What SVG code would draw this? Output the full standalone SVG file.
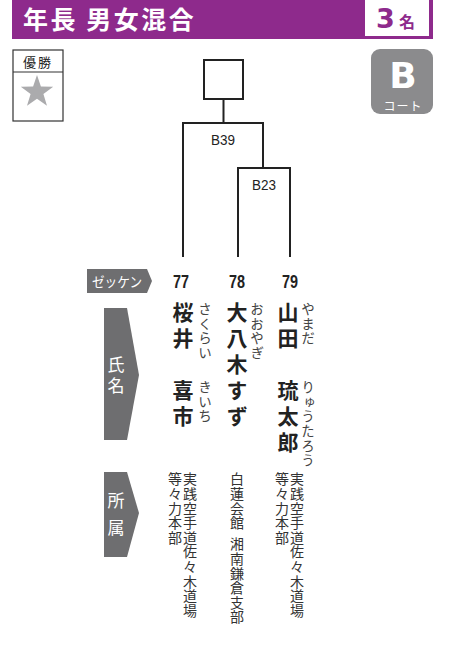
<svg xmlns="http://www.w3.org/2000/svg" width="450" height="656" viewBox="0 0 450 656">
<style>
.jp{font-family:"Noto Sans CJK JP","Noto Sans",sans-serif}
.v{writing-mode:vertical-rl}
.name{font-size:21px;font-weight:bold;fill:#222;letter-spacing:5px}
.kana{font-size:13.5px;fill:#444;letter-spacing:1.2px}
.aff{font-size:14px;fill:#333;letter-spacing:0.6px}
.num{font-family:"Liberation Sans",Arial,sans-serif;font-weight:bold;font-size:18px;fill:#222}
.lbl{font-family:"Liberation Sans",Arial,sans-serif;font-size:15px;fill:#222}
.ln{fill:none;stroke:#222;stroke-width:2}
.tag{fill:#6E6E70}
</style>
<rect width="450" height="656" fill="#fff"/>
<g id="header">
<rect x="12" y="0" width="421" height="39" fill="#8E2A8C"/>
<text class="jp" x="23" y="29" font-size="25" font-weight="bold" fill="#fff" letter-spacing="2.5">年長 男女混合</text>
<rect x="365" y="0" width="64" height="36" fill="#fff"/>
<text x="376" y="28" font-family="DejaVu Sans,sans-serif" font-weight="bold" font-size="27" fill="#8E2A8C">3</text>
<text class="jp" x="399" y="28" font-size="16" font-weight="bold" fill="#8E2A8C">名</text>
</g>
<g id="winner-legend">
<rect x="13" y="50" width="50" height="71" fill="#fff" stroke="#333" stroke-width="1.2"/>
<line x1="13" y1="72" x2="63" y2="72" stroke="#333" stroke-width="1.2"/>
<text class="jp" x="38" y="67" font-size="13" text-anchor="middle" fill="#222" letter-spacing="2">優勝</text>
<polygon points="37,75 40.9,86.6 53.2,86.8 43.4,94.1 47,105.8 37,98.8 27,105.8 30.6,94.1 20.8,86.8 33.1,86.6" fill="#ABABAD"/>
</g>
<g id="court">
<rect x="371" y="49" width="62" height="65" rx="9" fill="#8B8B8D"/>
<text x="403" y="88" font-family="DejaVu Sans,sans-serif" font-weight="bold" font-size="36" fill="#fff" text-anchor="middle">B</text>
<text class="jp" x="403" y="111" font-size="12" fill="#fff" text-anchor="middle" letter-spacing="1">コート</text>
</g>
<g id="connectors">
<path class="ln" d="M223.5,99 V123 M183,257 V123 H263 V168 M238,257 V168 H290 V257"/>
<text class="lbl" x="223" y="145" text-anchor="middle" textLength="24" lengthAdjust="spacingAndGlyphs">B39</text>
<text class="lbl" x="264" y="190" text-anchor="middle" textLength="24" lengthAdjust="spacingAndGlyphs">B23</text>
</g>
<g id="final">
<rect x="204" y="60" width="39" height="39" fill="#fff" stroke="#222" stroke-width="2"/>
</g>
<g id="labels">
<polygon class="tag" points="87,269 147,269 152,281 147,293 87,293"/>
<text class="jp" x="92" y="287" font-size="14" fill="#fff" textLength="50" lengthAdjust="spacingAndGlyphs">ゼッケン</text>
<polygon class="tag" points="104,308 127,308 139,375 127,440 104,440"/>
<text class="jp v" x="116" y="356" font-size="17" fill="#fff" letter-spacing="4">氏名</text>
<polygon class="tag" points="104,472 127,472 139,513 127,557 104,557"/>
<text class="jp v" x="116" y="492" font-size="17" fill="#fff" letter-spacing="10">所属</text>
</g>
<g id="entry-77">
<text class="num" x="181" y="288" text-anchor="middle" textLength="16" lengthAdjust="spacingAndGlyphs">77</text>
<text class="jp v name" x="183" y="301.5">桜井</text>
<text class="jp v name" x="183" y="379.5">喜市</text>
<text class="jp v kana" x="205" y="302">さくらい</text>
<text class="jp v kana" x="205" y="380">きいち</text>
<text class="jp v aff" x="190" y="472">実践空手道佐々木道場</text>
<text class="jp v aff" x="175" y="472">等々力本部</text>
</g>
<g id="entry-78">
<text class="num" x="237" y="288" text-anchor="middle" textLength="16" lengthAdjust="spacingAndGlyphs">78</text>
<text class="jp v name" x="237" y="301.5">大八木</text>
<text class="jp v name" x="237" y="379.5">すず</text>
<text class="jp v kana" x="257" y="302">おおやぎ</text>
<text class="jp v aff" x="237" y="472" word-spacing="3">白蓮会館 湘南鎌倉支部</text>
</g>
<g id="entry-79">
<text class="num" x="290" y="288" text-anchor="middle" textLength="16" lengthAdjust="spacingAndGlyphs">79</text>
<text class="jp v name" x="288" y="301.5">山田</text>
<text class="jp v name" x="288" y="379.5">琉太郎</text>
<text class="jp v kana" x="308" y="302">やまだ</text>
<text class="jp v kana" x="308" y="380">りゅうたろう</text>
<text class="jp v aff" x="297" y="472">実践空手道佐々木道場</text>
<text class="jp v aff" x="282" y="472">等々力本部</text>
</g>
</svg>
